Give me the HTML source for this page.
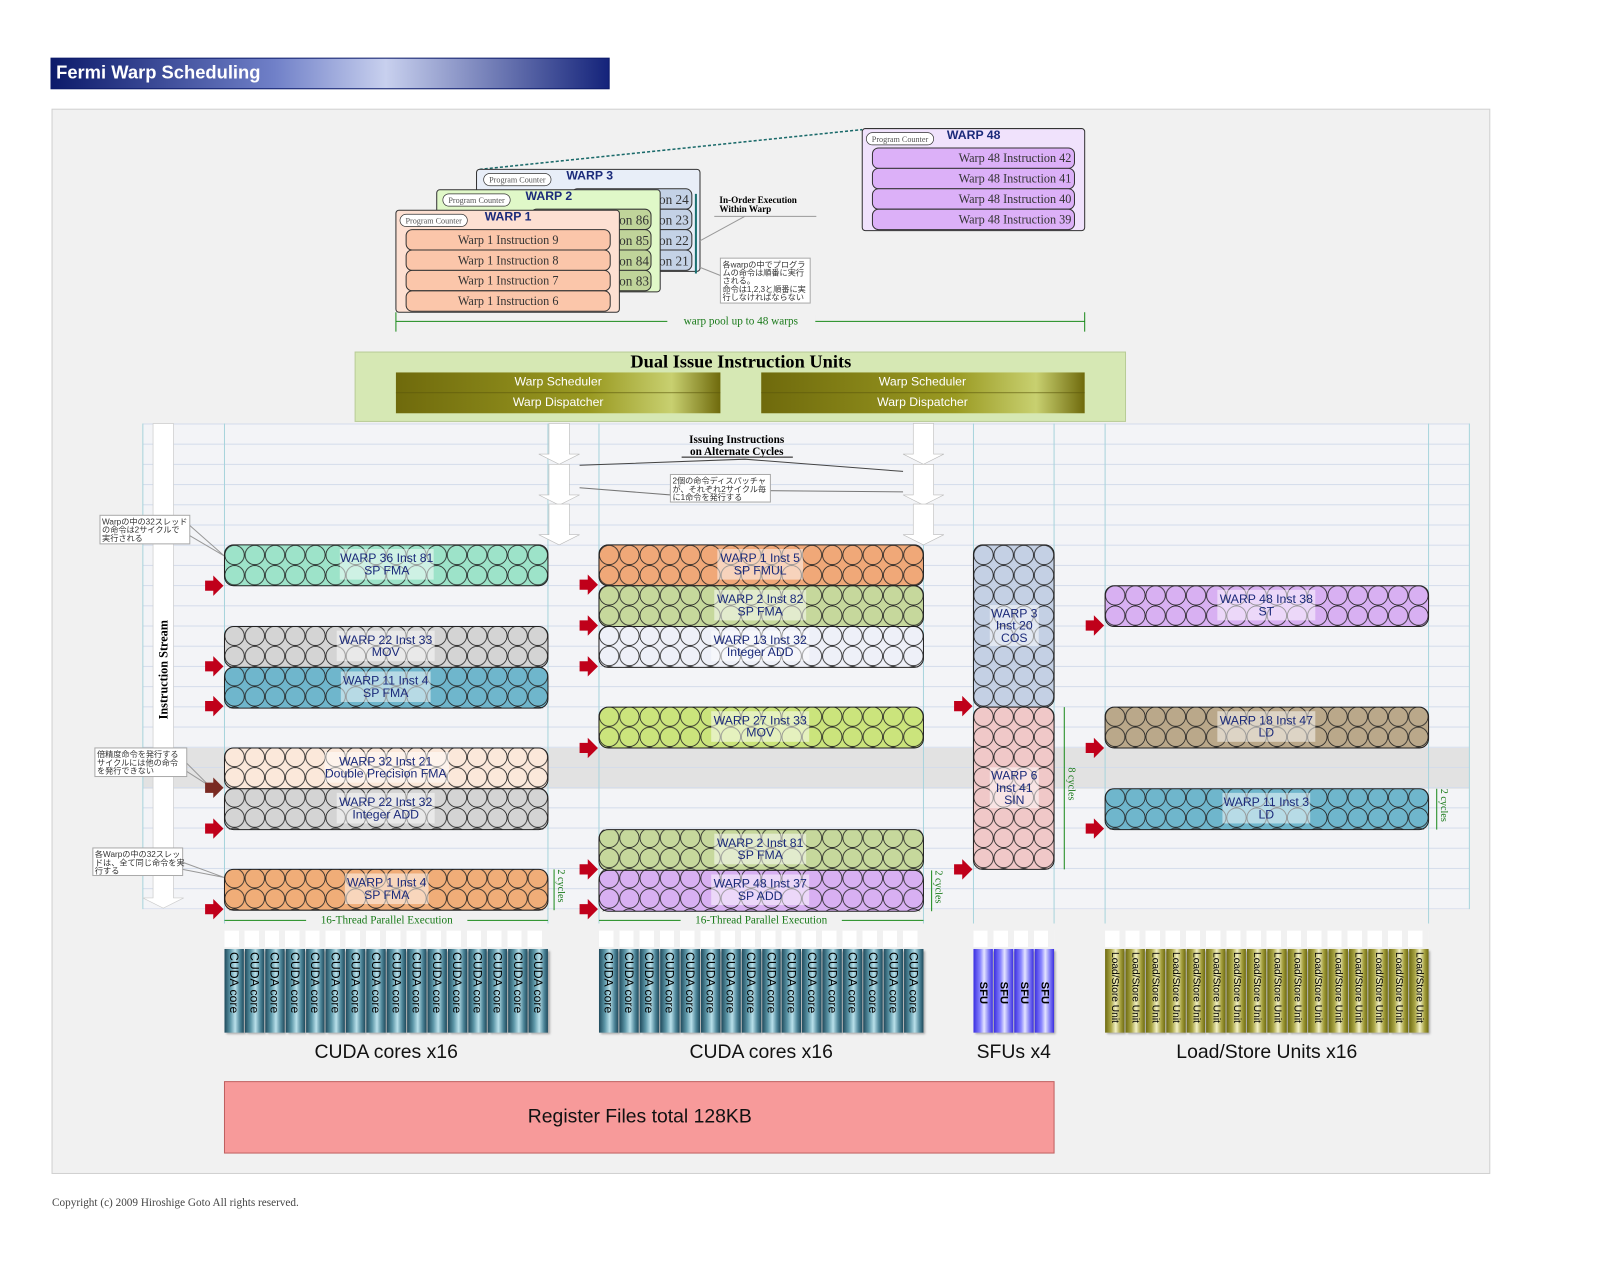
<!DOCTYPE html>
<html><head><meta charset="utf-8"><style>
body{margin:0;background:#fff;width:1600px;height:1275px;overflow:hidden}
#w{position:absolute;left:0;top:0;width:1568px;height:1250px;transform:scale(1.0204);transform-origin:0 0;font-family:"Liberation Sans","Noto Sans CJK JP",sans-serif}
.ab{position:absolute}
.bars{position:absolute;display:flex;gap:1px;top:930px;height:82px}
.bars div{flex:1;writing-mode:vertical-rl;font-size:11px;color:#000;display:flex;align-items:center;justify-content:flex-start;padding-top:3px;box-sizing:border-box;box-shadow:2px 2px 2px #aaa}
.cu div{background:linear-gradient(90deg,#1f4a5c,#5d97a8 30%,#b9e0ea 55%,#4e8699 80%,#1f4a5c);font-size:12px}
.sf div{background:linear-gradient(90deg,#3a2ee0,#8a86ff 35%,#e4e4ff 55%,#7c78f4 80%,#3a2ee0);font-weight:bold;font-size:11px;justify-content:center}
.ls div{background:linear-gradient(90deg,#6d6a10,#aaa646 30%,#f2f0c4 55%,#a39e3c 80%,#6d6a10);font-size:10px}
.lab{position:absolute;font-size:19px;color:#111;text-align:center;top:1021px}
</style></head><body><div id="w">
<svg width="1552" height="1237" viewBox="0 0 1552 1237" style="position:absolute;left:0;top:0" font-family="Liberation Sans, Noto Sans CJK JP, sans-serif">
<defs>
<linearGradient id="tg" x1="0" x2="1"><stop offset="0" stop-color="#0c1a6a"/><stop offset=".4" stop-color="#7080c8"/><stop offset=".6" stop-color="#c8d0ee"/><stop offset="1" stop-color="#14237a"/></linearGradient>
<linearGradient id="og" x1="0" x2="1"><stop offset="0" stop-color="#6f6a0c"/><stop offset=".6" stop-color="#9a9a22"/><stop offset=".85" stop-color="#c8d070"/><stop offset="1" stop-color="#6f6a0c"/></linearGradient>
<pattern id="cL" x="220" y="534" width="19.81" height="19.8" patternUnits="userSpaceOnUse"><circle cx="9.9" cy="9.9" r="9.5" fill="none" stroke="#222" stroke-width=".8"/></pattern>
<pattern id="cM" x="587" y="534" width="19.88" height="19.8" patternUnits="userSpaceOnUse"><circle cx="9.94" cy="9.9" r="9.5" fill="none" stroke="#222" stroke-width=".8"/></pattern>
<pattern id="cS" x="954" y="534" width="19.75" height="19.8" patternUnits="userSpaceOnUse"><circle cx="9.87" cy="9.9" r="9.5" fill="none" stroke="#222" stroke-width=".8"/></pattern>
<pattern id="cR" x="1083" y="534" width="19.81" height="19.8" patternUnits="userSpaceOnUse"><circle cx="9.9" cy="9.9" r="9.5" fill="none" stroke="#222" stroke-width=".8"/></pattern>
<pattern id="grid" x="0" y="415" width="10" height="19.8" patternUnits="userSpaceOnUse"><line x1="0" y1="0.5" x2="10" y2="0.5" stroke="#d4dceb" stroke-width="1"/></pattern>
<g id="ra"><polygon points="-18,-5 -10,-5 -10,-10 0,0 -10,10 -10,5 -18,5" fill="#c0001a"/></g>
<g id="da"><polygon points="0,0 20,0 20,30 30,30 10,40 -10,30 0,30" fill="#fff" stroke="#bbb" stroke-width=".6"/></g>
</defs>
<rect width="1552" height="1237" fill="#fff"/>
<rect x="50" y="57" width="547" height="30" fill="url(#tg)" stroke="#0c1a6a"/>
<text x="55" y="77" font-size="18" fill="#fff" font-weight="bold">Fermi Warp Scheduling</text>
<rect x="51" y="107" width="1409" height="1043" fill="#f1f1f1" stroke="#d0d0d0"/>
<rect x="140" y="415" width="1300" height="476" fill="#f3f4f7"/>
<rect x="140" y="733" width="1300" height="40" fill="#e2e2e2"/>
<rect x="140" y="415" width="1300" height="476" fill="url(#grid)"/>
<g stroke="#a8d4dc" stroke-width="1">
<line x1="140" y1="415" x2="140" y2="891"/><line x1="220" y1="415" x2="220" y2="905"/><line x1="537" y1="415" x2="537" y2="905"/><line x1="587" y1="415" x2="587" y2="905"/><line x1="905" y1="415" x2="905" y2="905"/><line x1="954" y1="415" x2="954" y2="905"/><line x1="1033" y1="415" x2="1033" y2="905"/><line x1="1083" y1="415" x2="1083" y2="905"/><line x1="1400" y1="415" x2="1400" y2="905"/><line x1="1440" y1="415" x2="1440" y2="891"/>
</g>
<polygon points="150,415 170,415 170,880 180,880 160,890 140,880 150,880" fill="#fff" stroke="#ccc" stroke-width=".7"/>
<text transform="translate(164,705) rotate(-90)" font-family="Liberation Serif, serif" font-size="12" font-weight="bold">Instruction Stream</text>

<line x1="470" y1="166" x2="845" y2="127" stroke="#1a6a6a" stroke-width="1.5" stroke-dasharray="3,2"/>
<g font-family="Liberation Serif, serif">
<rect x="467" y="166" width="219" height="100" rx="3" fill="#e8eef8" stroke="#333"/>
<rect x="474" y="170" width="66" height="12" rx="6" fill="#fff" stroke="#333" stroke-width=".7"/><text x="507" y="179" font-size="8" text-anchor="middle" fill="#555">Program Counter</text>
<text x="555" y="176" font-size="12" font-weight="bold" fill="#1b2a7a" font-family="Liberation Sans, sans-serif">WARP 3</text>
<g fill="#c4d2e6" stroke="#333"><rect x="560" y="185" width="118" height="20" rx="6"/><rect x="560" y="205" width="118" height="20" rx="6"/><rect x="560" y="225" width="118" height="20" rx="6"/><rect x="560" y="245" width="118" height="20" rx="6"/></g>
<g font-size="13" fill="#333" text-anchor="end"><text x="675" y="200">on 24</text><text x="675" y="220">on 23</text><text x="675" y="240">on 22</text><text x="675" y="260">on 21</text></g>
<line x1="682" y1="190" x2="682" y2="268" stroke="#1a7070" stroke-width="2"/>
<rect x="428" y="186" width="219" height="100" rx="3" fill="#e0f8c8" stroke="#333"/>
<rect x="434" y="190" width="66" height="12" rx="6" fill="#fff" stroke="#333" stroke-width=".7"/><text x="467" y="199" font-size="8" text-anchor="middle" fill="#555">Program Counter</text>
<text x="515" y="196" font-size="12" font-weight="bold" fill="#1b2a7a" font-family="Liberation Sans, sans-serif">WARP 2</text>
<g fill="#c0d49a" stroke="#333"><rect x="520" y="205" width="118" height="20" rx="6"/><rect x="520" y="225" width="118" height="20" rx="6"/><rect x="520" y="245" width="118" height="20" rx="6"/><rect x="520" y="265" width="118" height="20" rx="6"/></g>
<g font-size="13" fill="#333" text-anchor="end"><text x="636" y="220">on 86</text><text x="636" y="240">on 85</text><text x="636" y="260">on 84</text><text x="636" y="280">on 83</text></g>
<rect x="388" y="206" width="219" height="100" rx="3" fill="#fde0d2" stroke="#333"/>
<rect x="392" y="210" width="66" height="12" rx="6" fill="#fff" stroke="#333" stroke-width=".7"/><text x="425" y="219" font-size="8" text-anchor="middle" fill="#555">Program Counter</text>
<text x="475" y="216" font-size="12" font-weight="bold" fill="#1b2a7a" font-family="Liberation Sans, sans-serif">WARP 1</text>
<g fill="#fbc6aa" stroke="#333"><rect x="398" y="225" width="200" height="20" rx="6"/><rect x="398" y="245" width="200" height="20" rx="6"/><rect x="398" y="265" width="200" height="20" rx="6"/><rect x="398" y="285" width="200" height="20" rx="6"/></g>
<g font-size="12" fill="#333" text-anchor="middle"><text x="498" y="239">Warp 1 Instruction 9</text><text x="498" y="259">Warp 1 Instruction 8</text><text x="498" y="279">Warp 1 Instruction 7</text><text x="498" y="299">Warp 1 Instruction 6</text></g>
<rect x="845" y="126" width="218" height="100" rx="3" fill="#f0e2fc" stroke="#333"/>
<rect x="849" y="130" width="66" height="12" rx="6" fill="#fff" stroke="#333" stroke-width=".7"/><text x="882" y="139" font-size="8" text-anchor="middle" fill="#555">Program Counter</text>
<text x="928" y="136" font-size="12" font-weight="bold" fill="#1b2a7a" font-family="Liberation Sans, sans-serif">WARP 48</text>
<g fill="#dcb0f8" stroke="#333"><rect x="855" y="145" width="198" height="20" rx="6"/><rect x="855" y="165" width="198" height="20" rx="6"/><rect x="855" y="185" width="198" height="20" rx="6"/><rect x="855" y="205" width="198" height="20" rx="6"/></g>
<g font-size="12" fill="#333" text-anchor="end"><text x="1050" y="159">Warp 48 Instruction 42</text><text x="1050" y="179">Warp 48 Instruction 41</text><text x="1050" y="199">Warp 48 Instruction 40</text><text x="1050" y="219">Warp 48 Instruction 39</text></g>
<text x="705" y="199" font-size="9" font-weight="bold">In-Order Execution</text><text x="705" y="208" font-size="9" font-weight="bold">Within Warp</text>
<line x1="700" y1="212" x2="800" y2="212" stroke="#999"/><line x1="730" y1="212" x2="686" y2="236" stroke="#999"/>
<line x1="388" y1="315" x2="1063" y2="315" stroke="#1a8a1a"/><line x1="388" y1="306" x2="388" y2="325" stroke="#1a8a1a"/><line x1="1063" y1="306" x2="1063" y2="325" stroke="#1a8a1a"/>
<rect x="654" y="308" width="145" height="14" fill="#f1f1f1"/>
<text x="726" y="318" font-size="11" fill="#1a7a1a" text-anchor="middle">warp pool   up to 48 warps</text>
<rect x="348" y="345" width="755" height="68" fill="#d6e8b4" stroke="#b8cc96"/>
<text x="726" y="360" font-size="18" font-weight="bold" text-anchor="middle">Dual Issue Instruction Units</text>
</g>
<rect x="388" y="365" width="318" height="40" fill="url(#og)"/><rect x="746" y="365" width="317" height="40" fill="url(#og)"/>
<line x1="388" y1="385" x2="706" y2="385" stroke="#5a560a" stroke-width=".6"/><line x1="746" y1="385" x2="1063" y2="385" stroke="#5a560a" stroke-width=".6"/>
<g font-size="12" fill="#fff" text-anchor="middle"><text x="547" y="378">Warp Scheduler</text><text x="547" y="398">Warp Dispatcher</text><text x="904" y="378">Warp Scheduler</text><text x="904" y="398">Warp Dispatcher</text></g>
<use href="#da" x="538" y="415"/><use href="#da" x="538" y="455"/><use href="#da" x="538" y="494"/>
<use href="#da" x="895" y="415"/><use href="#da" x="895" y="455"/><use href="#da" x="895" y="494"/>
<g font-family="Liberation Serif, serif" font-weight="bold" font-size="11" text-anchor="middle"><text x="722" y="434">Issuing Instructions</text><text x="722" y="446">on Alternate Cycles</text></g>
<line x1="668" y1="448" x2="777" y2="448" stroke="#111"/>
<polyline points="568,456 730,450 885,462" fill="none" stroke="#444"/>
<polyline points="568,478 657,485 657,480 885,482" fill="none" stroke="#777"/>
<g font-size="8" fill="#333">
<rect x="657" y="465" width="98" height="27" fill="#fff" stroke="#aaa"/><text x="659" y="474">2個の命令ディスパッチャ</text><text x="659" y="482">が、それぞれ2サイクル毎</text><text x="659" y="490">に1命令を発行する</text>
<rect x="706" y="253" width="88" height="44" fill="#fff" stroke="#aaa"/><text x="708" y="262">各warpの中でプログラ</text><text x="708" y="270">ムの命令は順番に実行</text><text x="708" y="278">される。</text><text x="708" y="286">命令は1,2,3と順番に実</text><text x="708" y="294">行しなければならない</text>
<line x1="706" y1="270" x2="686" y2="262" stroke="#999"/>
<rect x="98" y="505" width="88" height="28" fill="#fff" stroke="#aaa"/><text x="100" y="514">Warpの中の32スレッド</text><text x="100" y="522">の命令は2サイクルで</text><text x="100" y="530">実行される</text>
<polyline points="186,515 220,545 186,525" fill="none" stroke="#999"/>
<rect x="93" y="733" width="90" height="28" fill="#fff" stroke="#aaa"/><text x="95" y="742">倍精度命令を発行する</text><text x="95" y="750">サイクルには他の命令</text><text x="95" y="758">を発行できない</text>
<polyline points="183,748 205,770 183,756" fill="none" stroke="#999"/>
<rect x="91" y="831" width="88" height="27" fill="#fff" stroke="#aaa"/><text x="93" y="840">各Warpの中の32スレッ</text><text x="93" y="848">ドは、全て同じ命令を実</text><text x="93" y="856">行する</text>
<polyline points="179,845 220,860 179,852" fill="none" stroke="#999"/>
</g>

<g stroke="#222" stroke-width="1">
<rect x="220" y="534" width="317" height="40" rx="9" fill="#9de3c9"/>
<rect x="220" y="614" width="317" height="40" rx="9" fill="#d4d4d4"/>
<rect x="220" y="654" width="317" height="40" rx="9" fill="#6fb6cc"/>
<rect x="220" y="733" width="317" height="40" rx="9" fill="#fbe8da"/>
<rect x="220" y="773" width="317" height="40" rx="9" fill="#d4d4d4"/>
<rect x="220" y="852" width="317" height="40" rx="9" fill="#f0ad78"/>
<rect x="587" y="534" width="318" height="40" rx="9" fill="#f0a878"/>
<rect x="587" y="574" width="318" height="40" rx="9" fill="#c6d89c"/>
<rect x="587" y="614" width="318" height="40" rx="9" fill="#eef0f8"/>
<rect x="587" y="693" width="318" height="40" rx="9" fill="#cbe47c"/>
<rect x="587" y="813" width="318" height="40" rx="9" fill="#c6d89c"/>
<rect x="587" y="853" width="318" height="40" rx="9" fill="#d8b0f2"/>
<rect x="954" y="534" width="79" height="159" rx="9" fill="#c4d0e4"/>
<rect x="954" y="693" width="79" height="159" rx="9" fill="#f0c8c8"/>
<rect x="1083" y="574" width="317" height="40" rx="9" fill="#d8b0f2"/>
<rect x="1083" y="693" width="317" height="40" rx="9" fill="#baa88a"/>
<rect x="1083" y="773" width="317" height="40" rx="9" fill="#6fb6cc"/>
</g>
<g>
<rect x="220" y="534" width="317" height="40" fill="url(#cL)"/><rect x="220" y="614" width="317" height="80" fill="url(#cL)"/><rect x="220" y="733" width="317" height="80" fill="url(#cL)"/><rect x="220" y="852" width="317" height="40" fill="url(#cL)"/>
<rect x="587" y="534" width="318" height="120" fill="url(#cM)"/><rect x="587" y="693" width="318" height="40" fill="url(#cM)"/><rect x="587" y="813" width="318" height="80" fill="url(#cM)"/>
<rect x="954" y="534" width="79" height="318" fill="url(#cS)"/>
<rect x="1083" y="574" width="317" height="40" fill="url(#cR)"/><rect x="1083" y="693" width="317" height="40" fill="url(#cR)"/><rect x="1083" y="773" width="317" height="40" fill="url(#cR)"/>
</g>
<g fill="#fff" opacity=".5">
<rect x="333" y="538" width="92" height="30"/><rect x="330" y="618" width="96" height="30"/><rect x="334" y="658" width="88" height="30"/><rect x="318" y="737" width="122" height="30"/><rect x="330" y="777" width="96" height="30"/><rect x="338" y="856" width="82" height="30"/>
<rect x="703" y="538" width="84" height="30"/><rect x="700" y="578" width="90" height="30"/><rect x="697" y="618" width="96" height="30"/><rect x="697" y="697" width="96" height="30"/><rect x="700" y="817" width="90" height="30"/><rect x="697" y="857" width="96" height="30"/>
<rect x="970" y="593" width="48" height="40"/><rect x="970" y="752" width="48" height="40"/>
<rect x="1193" y="578" width="96" height="30"/><rect x="1193" y="697" width="96" height="30"/><rect x="1198" y="777" width="86" height="30"/>
</g>
<g font-size="12" fill="#1b2a7a" text-anchor="middle">
<text x="379" y="551">WARP 36 Inst 81</text><text x="379" y="563">SP FMA</text>
<text x="378" y="631">WARP 22 Inst 33</text><text x="378" y="643">MOV</text>
<text x="378" y="671">WARP 11 Inst 4</text><text x="378" y="683">SP FMA</text>
<text x="378" y="750">WARP 32 Inst 21</text><text x="378" y="762">Double Precision FMA</text>
<text x="378" y="790">WARP 22 Inst 32</text><text x="378" y="802">Integer ADD</text>
<text x="379" y="869">WARP 1 Inst 4</text><text x="379" y="881">SP FMA</text>
<text x="745" y="551">WARP 1 Inst 5</text><text x="745" y="563">SP FMUL</text>
<text x="745" y="591">WARP 2 Inst 82</text><text x="745" y="603">SP FMA</text>
<text x="745" y="631">WARP 13 Inst 32</text><text x="745" y="643">Integer ADD</text>
<text x="745" y="710">WARP 27 Inst 33</text><text x="745" y="722">MOV</text>
<text x="745" y="830">WARP 2 Inst 81</text><text x="745" y="842">SP FMA</text>
<text x="745" y="870">WARP 48 Inst 37</text><text x="745" y="882">SP ADD</text>
<text x="994" y="605">WARP 3</text><text x="994" y="617">Inst 20</text><text x="994" y="629">COS</text>
<text x="994" y="764">WARP 6</text><text x="994" y="776">Inst 41</text><text x="994" y="788">SIN</text>
<text x="1241" y="591">WARP 48 Inst 38</text><text x="1241" y="603">ST</text>
<text x="1241" y="710">WARP 18 Inst 47</text><text x="1241" y="722">LD</text>
<text x="1241" y="790">WARP 11 Inst 3</text><text x="1241" y="802">LD</text>
</g>
<use href="#ra" x="219" y="574"/><use href="#ra" x="219" y="653"/><use href="#ra" x="219" y="692"/>
<polygon points="201,767 209,767 209,762 219,772 209,782 209,777 201,777" fill="#7a2a22"/>
<use href="#ra" x="219" y="812"/><use href="#ra" x="219" y="891"/>
<use href="#ra" x="586" y="573"/><use href="#ra" x="586" y="613"/><use href="#ra" x="586" y="653"/><use href="#ra" x="586" y="733"/><use href="#ra" x="586" y="852"/><use href="#ra" x="586" y="891"/>
<use href="#ra" x="953" y="692"/><use href="#ra" x="953" y="852"/>
<use href="#ra" x="1082" y="613"/><use href="#ra" x="1082" y="733"/><use href="#ra" x="1082" y="812"/>
<g stroke="#1a8a1a"><line x1="543" y1="852" x2="543" y2="892"/><line x1="913" y1="853" x2="913" y2="893"/><line x1="1043" y1="693" x2="1043" y2="852"/><line x1="1408" y1="773" x2="1408" y2="813"/>
<line x1="220" y1="902" x2="537" y2="902"/><line x1="587" y1="902" x2="905" y2="902"/></g>
<g font-family="Liberation Serif, serif" font-size="10" fill="#1a7a1a">
<text transform="translate(547,852) rotate(90)">2 cycles</text><text transform="translate(917,853) rotate(90)">2 cycles</text><text transform="translate(1047,752) rotate(90)">8 cycles</text><text transform="translate(1412,773) rotate(90)">2 cycles</text>
<rect x="300" y="896" width="158" height="12" fill="#f1f1f1"/><rect x="667" y="896" width="158" height="12" fill="#f1f1f1"/>
<text x="379" y="905" text-anchor="middle" font-size="11">16-Thread Parallel Execution</text><text x="746" y="905" text-anchor="middle" font-size="11">16-Thread Parallel Execution</text>
</g>
<rect x="220" y="1060" width="813" height="70" fill="#f79a9a" stroke="#c06060"/>
<text x="627" y="1100" font-size="19" text-anchor="middle" fill="#111">Register Files total 128KB</text>
<text x="51" y="1182" font-family="Liberation Serif, serif" font-size="11" fill="#444">Copyright (c) 2009 Hiroshige Goto All rights reserved.</text>
</svg>
<div class="bars cu" style="left:220px;width:317px"><div>CUDA core</div><div>CUDA core</div><div>CUDA core</div><div>CUDA core</div><div>CUDA core</div><div>CUDA core</div><div>CUDA core</div><div>CUDA core</div><div>CUDA core</div><div>CUDA core</div><div>CUDA core</div><div>CUDA core</div><div>CUDA core</div><div>CUDA core</div><div>CUDA core</div><div>CUDA core</div></div>
<div class="bars cu" style="left:587px;width:318px"><div>CUDA core</div><div>CUDA core</div><div>CUDA core</div><div>CUDA core</div><div>CUDA core</div><div>CUDA core</div><div>CUDA core</div><div>CUDA core</div><div>CUDA core</div><div>CUDA core</div><div>CUDA core</div><div>CUDA core</div><div>CUDA core</div><div>CUDA core</div><div>CUDA core</div><div>CUDA core</div></div>
<div class="bars sf" style="left:954px;width:79px"><div>SFU</div><div>SFU</div><div>SFU</div><div>SFU</div></div>
<div class="bars ls" style="left:1083px;width:317px"><div>Load/Store Unit</div><div>Load/Store Unit</div><div>Load/Store Unit</div><div>Load/Store Unit</div><div>Load/Store Unit</div><div>Load/Store Unit</div><div>Load/Store Unit</div><div>Load/Store Unit</div><div>Load/Store Unit</div><div>Load/Store Unit</div><div>Load/Store Unit</div><div>Load/Store Unit</div><div>Load/Store Unit</div><div>Load/Store Unit</div><div>Load/Store Unit</div><div>Load/Store Unit</div></div>
<div class="ab" style="left:220px;top:912px;width:317px;height:16px;background:repeating-linear-gradient(90deg,#fff 0 14px,transparent 14px 19.8px)"></div>
<div class="ab" style="left:587px;top:912px;width:318px;height:16px;background:repeating-linear-gradient(90deg,#fff 0 14px,transparent 14px 19.87px)"></div>
<div class="ab" style="left:954px;top:912px;width:79px;height:16px;background:repeating-linear-gradient(90deg,#fff 0 14px,transparent 14px 19.75px)"></div>
<div class="ab" style="left:1083px;top:912px;width:317px;height:16px;background:repeating-linear-gradient(90deg,#fff 0 14px,transparent 14px 19.8px)"></div>
<div class="lab" style="left:220px;width:317px">CUDA cores x16</div>
<div class="lab" style="left:587px;width:318px">CUDA cores x16</div>
<div class="lab" style="left:934px;width:119px">SFUs x4</div>
<div class="lab" style="left:1083px;width:317px">Load/Store Units x16</div>
</div></body></html>
